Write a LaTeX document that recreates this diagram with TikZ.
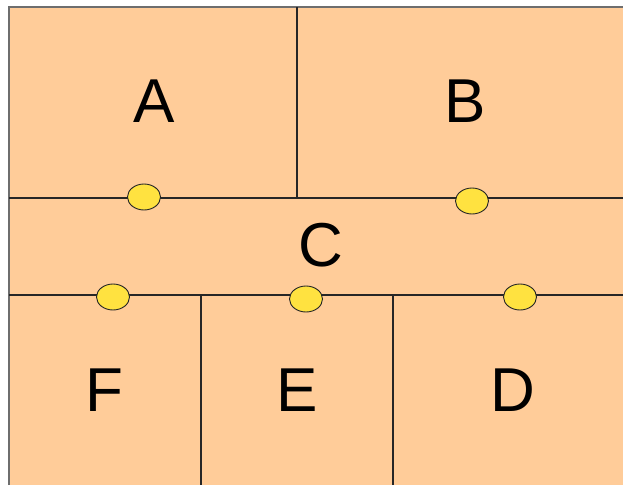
\documentclass[tikz,border=0pt]{standalone}
\usepackage{fontspec}
\setmainfont{Liberation Sans}
\usetikzlibrary{shapes.geometric}
\definecolor{peach}{RGB}{255,204,153}
\definecolor{dot}{RGB}{255,226,64}
\definecolor{edge}{RGB}{110,110,110}
\begin{document}
\begin{tikzpicture}[x=1pt,y=-1pt,
  lbl/.style={font=\fontsize{62}{62}\selectfont, inner sep=0pt},
  wall/.style={draw=black!85, line width=1.1pt},
  door/.style={ellipse, draw=black!85, line width=0.9pt, fill=dot, minimum width=33pt, minimum height=26pt, inner sep=0pt}]
\useasboundingbox (0,0) rectangle (623,485);
\fill[peach] (9,7) rectangle (623,485);
\draw[edge, line width=2pt] (9,485) -- (9,7) -- (623,7);
% walls
\draw[wall] (9,198) -- (623,198);
\draw[wall] (9,295) -- (623,295);
\draw[wall] (297,7) -- (297,198);
\draw[wall] (201,295) -- (201,485);
\draw[wall] (393,295) -- (393,485);
% labels
\node[lbl] (A) at (154,101) {A};
\node[lbl] (B) at (465,101) {B};
\node[lbl] (C) at (321,245) {C};
\node[lbl] (F) at (104,390) {F};
\node[lbl] (E) at (297,390) {E};
\node[lbl] (D) at (513,390) {D};
% doors
\node[door] (d1) at (144,197) {};
\node[door] (d2) at (472,201) {};
\node[door] (d3) at (113,297) {};
\node[door] (d4) at (306,299) {};
\node[door] (d5) at (520,297) {};
\end{tikzpicture}
\end{document}
